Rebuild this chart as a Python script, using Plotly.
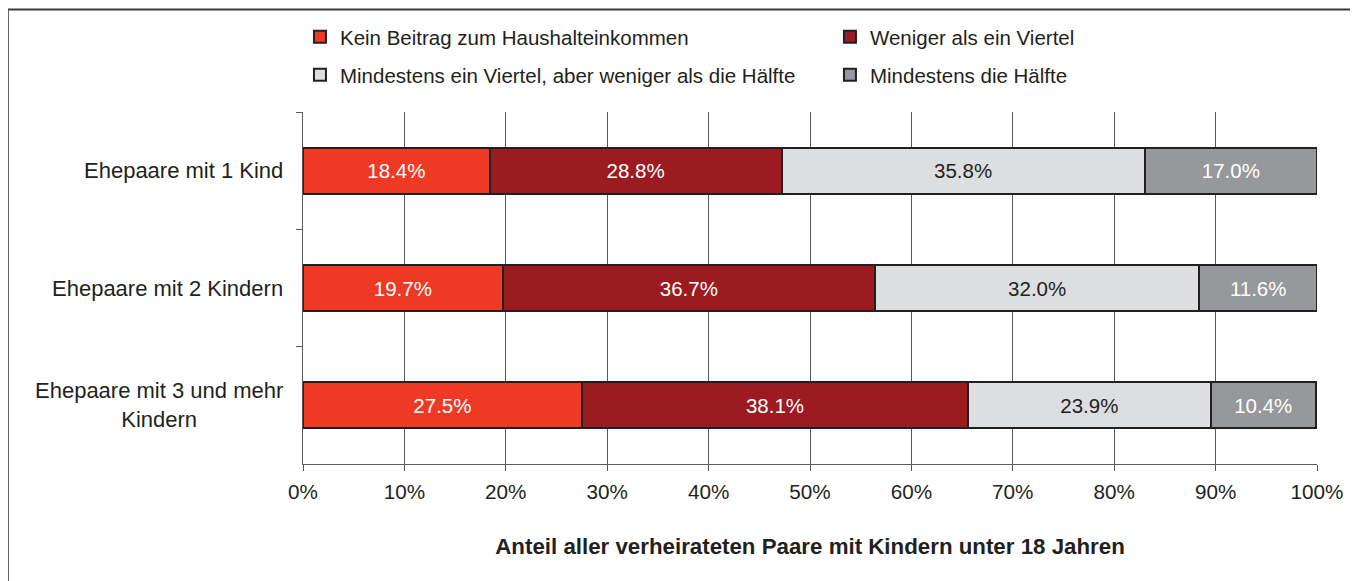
import plotly.graph_objects as go

categories = ["Ehepaare mit 1 Kind", "Ehepaare mit 2 Kindern", "Ehepaare mit 3 und mehr<br>Kindern"]
series_names = [
    "Kein Beitrag zum Haushalteinkommen",
    "Weniger als ein Viertel",
    "Mindestens ein Viertel, aber weniger als die Hälfte",
    "Mindestens die Hälfte",
]
kein_beitrag = [18.4, 19.7, 27.5]
weniger_viertel = [28.8, 36.7, 38.1]
mind_viertel = [35.8, 32.0, 23.9]
mind_haelfte = [17.0, 11.6, 10.4]
x_ticks = [0, 10, 20, 30, 40, 50, 60, 70, 80, 90, 100]
x_ticklabels = ["0%", "10%", "20%", "30%", "40%", "50%", "60%", "70%", "80%", "90%", "100%"]
x_title = "Anteil aller verheirateten Paare mit Kindern unter 18 Jahren"

values = [kein_beitrag, weniger_viertel, mind_viertel, mind_haelfte]
colors = ["#EE3A24", "#9B1B21", "#DDDEE0", "#97989B"]
text_colors = ["#FFFFFF", "#FFFFFF", "#231F20", "#FFFFFF"]
legends = ["legend", "legend", "legend2", "legend2"]

FONT = "Liberation Sans, Arial, sans-serif"
DARK = "#231F20"
GRID = "#5A5A5C"

fig = go.Figure()
for name, vals, col, tcol, lg in zip(series_names, values, colors, text_colors, legends):
    fig.add_trace(go.Bar(
        y=categories, x=vals, name=name, orientation="h",
        marker=dict(color=col, line=dict(color=DARK, width=2)),
        text=vals, texttemplate="%{x:.1f}%", textposition="inside",
        insidetextanchor="middle", textangle=0,
        textfont=dict(family=FONT, size=20.5, color=tcol),
        legend=lg, hoverinfo="skip",
    ))

for cat in categories:
    fig.add_annotation(
        x=0, y=cat, xref="paper", yref="y", xshift=-18,
        text=cat, showarrow=False, xanchor="right", align="center",
        font=dict(family=FONT, size=22, color=DARK),
    )

legend_common = dict(
    orientation="h", xref="paper", yref="paper", xanchor="left", yanchor="top",
    entrywidth=485, entrywidthmode="pixels", traceorder="normal",
    font=dict(family=FONT, size=20.5, color=DARK), bgcolor="rgba(0,0,0,0)",
    itemclick=False, itemdoubleclick=False,
)

fig.update_layout(
    width=1358, height=581,
    margin=dict(l=295, r=49, t=104, b=125, autoexpand=False),
    paper_bgcolor="white", plot_bgcolor="white",
    barmode="stack", bargap=0.61,
    font=dict(family=FONT, size=20, color=DARK),
    legend=dict(x=-0.003, y=1.270, **legend_common),
    legend2=dict(x=-0.003, y=1.162, **legend_common),
    showlegend=True,
    xaxis=dict(
        range=[0, 100], tickvals=x_ticks, ticktext=x_ticklabels,
        showgrid=True, gridcolor=GRID, gridwidth=1,
        showline=True, linecolor=GRID, linewidth=1,
        ticks="outside", ticklen=6, tickcolor=GRID, ticklabelstandoff=3,
        tickfont=dict(family=FONT, size=20.7, color=DARK),
        zeroline=False,
        title=dict(text="<b>" + x_title + "</b>", standoff=36,
                   font=dict(family=FONT, size=22.3, color=DARK)),
    ),
    yaxis=dict(
        categoryorder="array", categoryarray=categories, autorange="reversed",
        showticklabels=False, showgrid=False,
        showline=True, linecolor=GRID, linewidth=1,
        ticks="outside", ticklen=6, tickcolor=GRID, tickson="boundaries",
        zeroline=False,
    ),
    shapes=[
        dict(type="line", xref="paper", yref="paper", x0=-0.291, x1=1.06, y0=1.2912, y1=1.2912,
             line=dict(color="#3A3A3A", width=2)),
        dict(type="line", xref="paper", yref="paper", x0=-0.291, x1=-0.291, y0=1.2912, y1=-0.4,
             line=dict(color="#5A5A5A", width=2)),
    ],
)

fig.write_html("out.html")
